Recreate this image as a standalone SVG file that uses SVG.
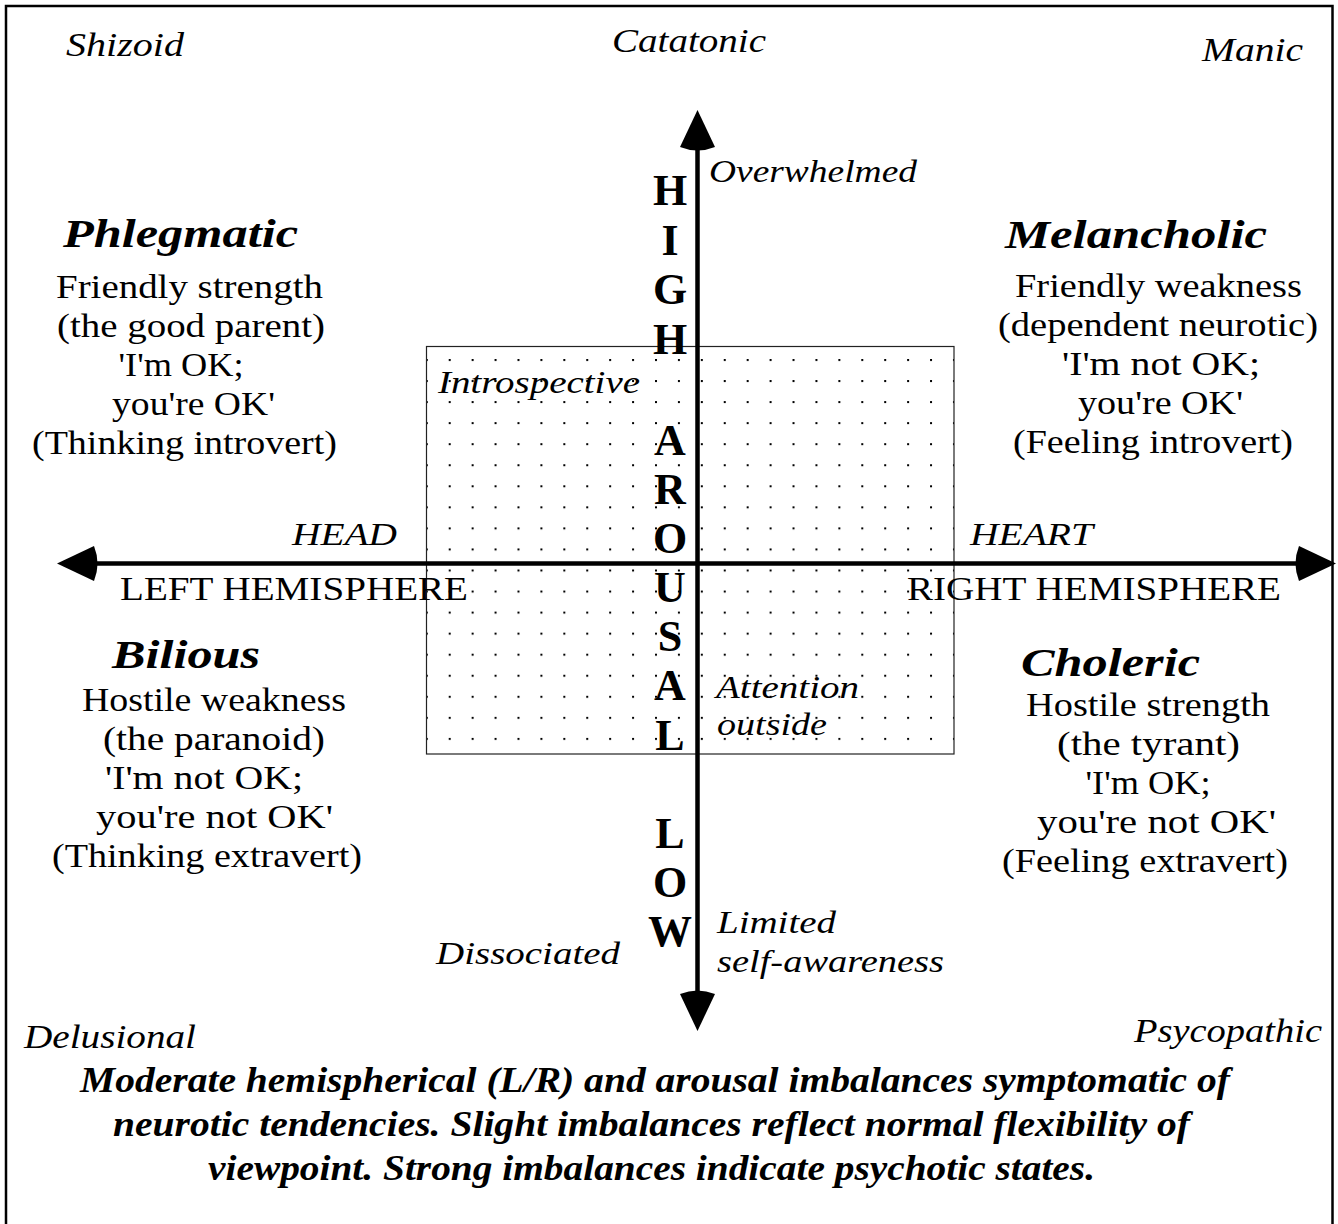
<svg xmlns="http://www.w3.org/2000/svg" width="1338" height="1224" viewBox="0 0 1338 1224">
<style>
text{font-family:"Liberation Serif","Times New Roman",serif;fill:#000}
.it{font-style:italic;font-size:32px}
.itl{font-style:italic;font-size:34px}
.rg{font-size:34px}
.bi{font-style:italic;font-weight:bold;font-size:41px}
.cap{font-style:italic;font-weight:bold;font-size:35px}
.bd{font-weight:bold;font-size:44px}
.axis{stroke:#000;stroke-width:4.5;fill:none}
</style>
<defs>
<pattern id="dots" x="425.8" y="359" width="22.92" height="21.05" patternUnits="userSpaceOnUse">
<rect x="0" y="0" width="2" height="2" fill="#000"/>
</pattern>
<path id="ah" d="M0,0 L-17.5,37 Q0,44 17.5,37 Z" fill="#000"/>
</defs>
<rect x="0" y="0" width="1338" height="1224" fill="#fff"/>
<rect id="frame" x="6" y="6" width="1326.5" height="1240" fill="none" stroke="#000" stroke-width="2.5"/>

<g id="central-box">
<rect x="426.5" y="346.5" width="527.5" height="407.5" fill="url(#dots)" stroke="#222" stroke-width="1.2"/>
</g>

<g id="connectors">
<line class="axis" x1="697.5" y1="146" x2="697.5" y2="995"/>
<line class="axis" x1="96" y1="563.5" x2="1300" y2="563.5"/>
<use href="#ah" transform="translate(697.5,110)"/>
<use href="#ah" transform="translate(697.5,1031) rotate(180)"/>
<use href="#ah" transform="translate(57,563.5) rotate(-90)"/>
<use href="#ah" transform="translate(1336,563.5) rotate(90)"/>
</g>

<g id="corner-labels">
<text class="itl" x="66" y="56" textLength="118" lengthAdjust="spacingAndGlyphs">Shizoid</text>
<text class="itl" x="612" y="52" textLength="154" lengthAdjust="spacingAndGlyphs">Catatonic</text>
<text class="itl" x="1202" y="61" textLength="101" lengthAdjust="spacingAndGlyphs">Manic</text>
<text class="itl" x="24" y="1048" textLength="172" lengthAdjust="spacingAndGlyphs">Delusional</text>
<text class="itl" x="1134" y="1042" textLength="188" lengthAdjust="spacingAndGlyphs">Psycopathic</text>
</g>

<g id="axis-labels">
<text class="it" x="709" y="182" textLength="208" lengthAdjust="spacingAndGlyphs">Overwhelmed</text>
<text class="it" x="438" y="393" textLength="202" lengthAdjust="spacingAndGlyphs">Introspective</text>
<text class="it" x="292" y="545" textLength="105" lengthAdjust="spacingAndGlyphs">HEAD</text>
<text class="it" x="970" y="545" textLength="123" lengthAdjust="spacingAndGlyphs">HEART</text>
<text class="rg" x="120" y="600" textLength="348" lengthAdjust="spacingAndGlyphs">LEFT HEMISPHERE</text>
<text class="rg" x="907" y="600" textLength="374" lengthAdjust="spacingAndGlyphs">RIGHT HEMISPHERE</text>
<text class="it" x="716" y="698" textLength="143" lengthAdjust="spacingAndGlyphs">Attention</text>
<text class="it" x="717" y="735" textLength="110" lengthAdjust="spacingAndGlyphs">outside</text>
<text class="it" x="717" y="933" textLength="119" lengthAdjust="spacingAndGlyphs">Limited</text>
<text class="it" x="717" y="972" textLength="227" lengthAdjust="spacingAndGlyphs">self-awareness</text>
<text class="it" x="436" y="964" textLength="184" lengthAdjust="spacingAndGlyphs">Dissociated</text>
</g>

<g id="arousal-label" text-anchor="middle">
<text class="bd" x="670" y="205">H</text>
<text class="bd" x="670" y="255">I</text>
<text class="bd" x="670" y="304">G</text>
<text class="bd" x="670" y="354">H</text>
<text class="bd" x="670" y="455">A</text>
<text class="bd" x="670" y="504">R</text>
<text class="bd" x="670" y="553">O</text>
<text class="bd" x="670" y="602">U</text>
<text class="bd" x="670" y="651">S</text>
<text class="bd" x="670" y="700">A</text>
<text class="bd" x="670" y="750">L</text>
<text class="bd" x="670" y="848">L</text>
<text class="bd" x="670" y="897">O</text>
<text class="bd" x="670" y="946">W</text>
</g>

<g id="phlegmatic" text-anchor="middle">
<text class="bi" x="180.5" y="247" textLength="235" lengthAdjust="spacingAndGlyphs">Phlegmatic</text>
<text class="rg" x="189.5" y="298" textLength="267" lengthAdjust="spacingAndGlyphs">Friendly strength</text>
<text class="rg" x="191" y="337" textLength="268" lengthAdjust="spacingAndGlyphs">(the good parent)</text>
<text class="rg" x="181" y="376" textLength="125" lengthAdjust="spacingAndGlyphs">'I'm OK;</text>
<text class="rg" x="193.5" y="415" textLength="163" lengthAdjust="spacingAndGlyphs">you're OK'</text>
<text class="rg" x="184.5" y="454" textLength="305" lengthAdjust="spacingAndGlyphs">(Thinking introvert)</text>
</g>

<g id="melancholic" text-anchor="middle">
<text class="bi" x="1136" y="248" textLength="262" lengthAdjust="spacingAndGlyphs">Melancholic</text>
<text class="rg" x="1158.5" y="297" textLength="287" lengthAdjust="spacingAndGlyphs">Friendly weakness</text>
<text class="rg" x="1158" y="336" textLength="320" lengthAdjust="spacingAndGlyphs">(dependent neurotic)</text>
<text class="rg" x="1161" y="375" textLength="198" lengthAdjust="spacingAndGlyphs">'I'm not OK;</text>
<text class="rg" x="1160.5" y="414" textLength="165" lengthAdjust="spacingAndGlyphs">you're OK'</text>
<text class="rg" x="1153" y="453" textLength="280" lengthAdjust="spacingAndGlyphs">(Feeling introvert)</text>
</g>

<g id="bilious" text-anchor="middle">
<text class="bi" x="186" y="668" textLength="148" lengthAdjust="spacingAndGlyphs">Bilious</text>
<text class="rg" x="214" y="711" textLength="264" lengthAdjust="spacingAndGlyphs">Hostile weakness</text>
<text class="rg" x="214" y="750" textLength="222" lengthAdjust="spacingAndGlyphs">(the paranoid)</text>
<text class="rg" x="204" y="789" textLength="198" lengthAdjust="spacingAndGlyphs">'I'm not OK;</text>
<text class="rg" x="214.5" y="828" textLength="237" lengthAdjust="spacingAndGlyphs">you're not OK'</text>
<text class="rg" x="207" y="867" textLength="310" lengthAdjust="spacingAndGlyphs">(Thinking extravert)</text>
</g>

<g id="choleric" text-anchor="middle">
<text class="bi" x="1110.5" y="676" textLength="179" lengthAdjust="spacingAndGlyphs">Choleric</text>
<text class="rg" x="1148" y="716" textLength="244" lengthAdjust="spacingAndGlyphs">Hostile strength</text>
<text class="rg" x="1148.5" y="755" textLength="183" lengthAdjust="spacingAndGlyphs">(the tyrant)</text>
<text class="rg" x="1148" y="794" textLength="125" lengthAdjust="spacingAndGlyphs">'I'm OK;</text>
<text class="rg" x="1156.5" y="833" textLength="239" lengthAdjust="spacingAndGlyphs">you're not OK'</text>
<text class="rg" x="1145" y="872" textLength="286" lengthAdjust="spacingAndGlyphs">(Feeling extravert)</text>
</g>

<g id="caption" text-anchor="middle">
<text class="cap" x="655" y="1092" textLength="1150" lengthAdjust="spacingAndGlyphs">Moderate hemispherical (L/R) and arousal imbalances symptomatic of</text>
<text class="cap" x="651.5" y="1136" textLength="1077" lengthAdjust="spacingAndGlyphs">neurotic tendencies. Slight imbalances reflect normal flexibility of</text>
<text class="cap" x="651.5" y="1180" textLength="887" lengthAdjust="spacingAndGlyphs">viewpoint. Strong imbalances indicate psychotic states.</text>
</g>
</svg>
